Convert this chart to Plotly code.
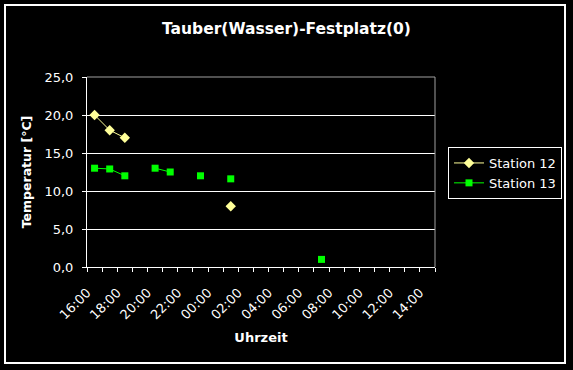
import plotly.graph_objects as go

# ---- data ----
times = ["16:30", "17:30", "18:30", "19:30", "20:30", "21:30", "22:30", "23:30",
         "00:30", "01:30", "02:30", "03:30", "04:30", "05:30", "06:30", "07:30"]
station12 = [20.0, 18.0, 17.0, None, None, None, None, None,
             None, 8.0, None, None, None, None, None, None]
station13 = [13.0, 12.9, 12.0, None, 13.0, 12.5, None, 12.0,
             None, 11.6, None, None, None, None, None, 1.0]
tick_labels = ["16:00", "18:00", "20:00", "22:00", "00:00", "02:00",
               "04:00", "06:00", "08:00", "10:00", "12:00", "14:00"]
title = "Tauber(Wasser)-Festplatz(0)"
x_title = "Uhrzeit"
y_title = "Temperatur [°C]"


def to_dt(t):
    h, m = map(int, t.split(":"))
    day = 1 if h >= 16 else 2
    return f"2000-01-0{day} {h:02d}:{m:02d}"


x = [to_dt(t) for t in times]
tickvals = [to_dt(t) for t in tick_labels]

FONT = "DejaVu Sans"

fig = go.Figure()
fig.add_trace(go.Scatter(
    x=x, y=station12, name="Station 12", mode="lines+markers",
    connectgaps=False,
    line=dict(color="#FFFF99", width=1),
    marker=dict(symbol="diamond", size=8, color="#FFFF99"),
))
fig.add_trace(go.Scatter(
    x=x, y=station13, name="Station 13", mode="lines+markers",
    connectgaps=False,
    line=dict(color="#00FF00", width=1),
    marker=dict(symbol="square", size=7, color="#00FF00"),
))

L, R, T, B = 87, 435, 77, 267
W, H = 573, 370
pw, ph = R - L, B - T


def px(xp):
    return (xp - L) / pw


def py(yp):
    return (B - yp) / ph


fig.update_layout(
    width=W, height=H,
    margin=dict(l=L, r=W - R, t=T, b=H - B, autoexpand=False),
    paper_bgcolor="#000000", plot_bgcolor="#000000",
    separators=",.",
    font=dict(family=FONT, color="#FFFFFF", size=13),
    title=dict(text=f"<b>{title}</b>", x=0.5, xref="container", xanchor="center",
               y=1 - 29 / H, yref="container", yanchor="middle",
               font=dict(family=FONT, size=15.5, color="#FFFFFF")),
    showlegend=True,
    legend=dict(x=px(448), y=py(147), xanchor="left", yanchor="top",
                bgcolor="#000000", bordercolor="#FFFFFF", borderwidth=1,
                font=dict(family=FONT, size=13, color="#FFFFFF"),
                itemwidth=30),
    xaxis=dict(
        type="date",
        range=["2000-01-01 16:00", "2000-01-02 15:00"],
        tickvals=tickvals, ticktext=tick_labels, tickangle=-45,
        ticks="outside", ticklen=4, tickcolor="#FFFFFF", tickwidth=1,
        ticklabelstandoff=8,
        minor=dict(dtick=3600000, tick0="2000-01-01 16:00", ticks="outside",
                   ticklen=4, tickcolor="#FFFFFF", tickwidth=1, showgrid=False),
        showgrid=False, zeroline=False,
        showline=True, linecolor="#FFFFFF", linewidth=1,
        tickfont=dict(family=FONT, size=13, color="#FFFFFF"),
        title=dict(text=f"<b>{x_title}</b>", standoff=11,
                   font=dict(family=FONT, size=13, color="#FFFFFF")),
        automargin=False, fixedrange=True,
    ),
    yaxis=dict(
        range=[0, 25], dtick=5, tick0=0, tickformat=".1f",
        ticks="outside", ticklen=4, tickcolor="#FFFFFF", tickwidth=1,
        ticklabelstandoff=6,
        showgrid=True, gridcolor="#FFFFFF", gridwidth=1,
        zeroline=False,
        showline=True, linecolor="#FFFFFF", linewidth=1,
        tickfont=dict(family=FONT, size=13, color="#FFFFFF"),
        title=dict(text=f"<b>{y_title}</b>", standoff=10,
                   font=dict(family=FONT, size=12.5, color="#FFFFFF")),
        automargin=False, fixedrange=True,
    ),
    shapes=[
        dict(type="line", xref="paper", yref="paper", x0=0, x1=1, y0=1, y1=1,
             line=dict(color="#A0A0A0", width=1), layer="above"),
        dict(type="line", xref="paper", yref="paper", x0=1, x1=1, y0=0, y1=1,
             line=dict(color="#A0A0A0", width=1), layer="above"),
        dict(type="rect", xref="paper", yref="paper",
             x0=px(5), x1=px(565), y0=py(5), y1=py(363),
             line=dict(color="#FFFFFF", width=2), fillcolor="rgba(0,0,0,0)",
             layer="above"),
    ],
)

fig.write_html(
    "out.html",
    config={"displayModeBar": False},
    post_script="document.body.style.margin='0px';document.body.style.background='#000';",
)
